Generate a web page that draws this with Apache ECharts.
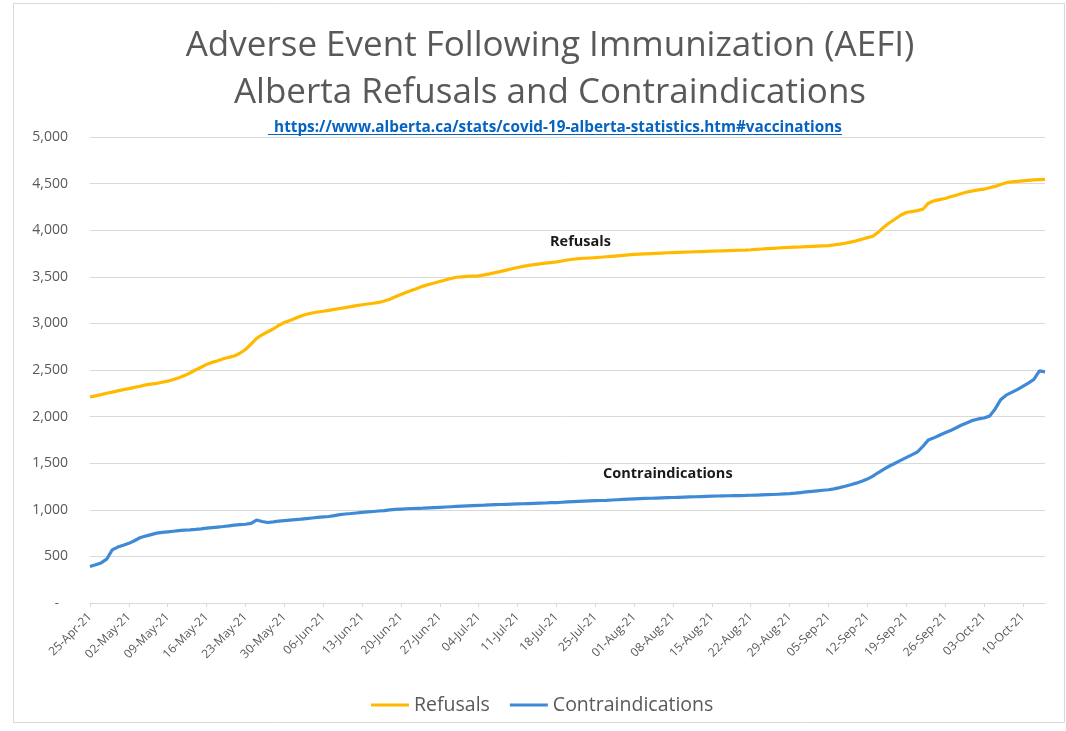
<!DOCTYPE html>
<html>
<head>
<meta charset="utf-8">
<title>AEFI Alberta Refusals and Contraindications</title>
<script src="https://cdn.jsdelivr.net/npm/echarts@6/dist/echarts.min.js"></script>
<style>
  html, body { margin: 0; padding: 0; background: #ffffff; }
  #chart { width: 1066px; height: 731px; }
</style>
</head>
<body>
<div id="chart"></div>
<script>
// Daily cumulative counts, 25-Apr-21 through 14-Oct-21
const startDate = '2021-04-25';
const dayCount = 173;

const refusals = [
  2210, 2222, 2236, 2250, 2262, 2276, 2289,
  2300, 2314, 2326, 2340, 2349, 2356, 2368,
  2380, 2398, 2418, 2440, 2468, 2500, 2530,
  2560, 2582, 2600, 2620, 2636, 2650, 2680,
  2720, 2778, 2840, 2878, 2910, 2940, 2978,
  3010, 3032, 3056, 3080, 3098, 3112, 3122,
  3130, 3140, 3150, 3160, 3170, 3180, 3190,
  3200, 3208, 3216, 3225, 3240, 3260, 3286,
  3310, 3334, 3356, 3378, 3400, 3418, 3434,
  3450, 3466, 3482, 3495, 3500, 3504, 3507,
  3510, 3520, 3532, 3545, 3558, 3572, 3586,
  3600, 3612, 3622, 3630, 3638, 3646, 3653,
  3660, 3670, 3680, 3688, 3695, 3699, 3702,
  3705, 3710, 3715, 3720, 3725, 3730, 3735,
  3740, 3743, 3746, 3749, 3752, 3755, 3758,
  3760, 3762, 3764, 3766, 3769, 3771, 3773,
  3775, 3777, 3779, 3781, 3783, 3785, 3787,
  3790, 3794, 3798, 3802, 3806, 3809, 3812,
  3815, 3818, 3820, 3823, 3826, 3829, 3832,
  3835, 3842, 3850, 3860, 3872, 3886, 3902,
  3920, 3935, 3980, 4035, 4080, 4120, 4160,
  4190, 4200, 4210, 4225, 4290, 4315, 4328,
  4340, 4358, 4376, 4394, 4410, 4422, 4432,
  4440, 4455, 4470, 4490, 4510, 4518, 4524,
  4530, 4535, 4539, 4542, 4545
];

const contraindications = [
  392, 410, 430, 470, 570, 600, 620,
  640, 668, 700, 718, 734, 750, 758,
  764, 770, 776, 781, 785, 790, 796,
  803, 809, 815, 821, 828, 836, 841,
  845, 855, 890, 875, 864, 870, 878,
  884, 890, 895, 900, 906, 912, 918,
  924, 928, 938, 948, 955, 960, 966,
  972, 977, 982, 987, 992, 1000, 1004,
  1008, 1011, 1014, 1016, 1018, 1021, 1024,
  1027, 1030, 1033, 1036, 1039, 1042, 1045,
  1048, 1050, 1053, 1055, 1057, 1059, 1061,
  1063, 1065, 1067, 1069, 1071, 1073, 1076,
  1078, 1081, 1084, 1087, 1090, 1093, 1096,
  1098, 1100, 1102, 1105, 1108, 1111, 1114,
  1117, 1120, 1122, 1124, 1126, 1128, 1130,
  1132, 1134, 1136, 1138, 1140, 1142, 1144,
  1146, 1148, 1150, 1151, 1152, 1153, 1154,
  1156, 1158, 1160, 1162, 1164, 1167, 1170,
  1173, 1178, 1185, 1192, 1198, 1204, 1210,
  1215, 1225, 1238, 1252, 1268, 1286, 1306,
  1330, 1362, 1400, 1436, 1470, 1500, 1530,
  1560, 1590, 1620, 1680, 1750, 1772, 1800,
  1826, 1850, 1880, 1910, 1935, 1960, 1975,
  1985, 2005, 2080, 2180, 2230, 2260, 2290,
  2325, 2360, 2400, 2490, 2480
];

const seriesNames = ['Refusals', 'Contraindications'];
const titleLines = ['Adverse Event Following Immunization (AEFI)', 'Alberta Refusals and Contraindications'];
const sourceLink = 'https://www.alberta.ca/stats/covid-19-alberta-statistics.htm#vaccinations';

// Build the daily category labels, e.g. "25-Apr-21"
const monthNames = ['Jan','Feb','Mar','Apr','May','Jun','Jul','Aug','Sep','Oct','Nov','Dec'];
const dates = [];
{
  const d0 = new Date(startDate + 'T12:00:00Z');
  for (let i = 0; i < dayCount; i++) {
    const d = new Date(d0.getTime() + i * 86400000);
    const dd = String(d.getUTCDate()).padStart(2, '0');
    const yy = String(d.getUTCFullYear()).slice(2);
    dates.push(dd + '-' + monthNames[d.getUTCMonth()] + '-' + yy);
  }
}

const grey = '#595959';
const font = '"Open Sans", "Noto Sans", sans-serif';
const orange = '#FFBA00';
const blue = '#3F8AD6';

const chart = echarts.init(document.getElementById('chart'), null, { renderer: 'canvas' });

chart.setOption({
  backgroundColor: '#ffffff',
  animation: false,
  textStyle: { fontFamily: font },
  title: [
    {
      text: titleLines.join('\n'),
      left: 545,
      top: 18,
      textAlign: 'center',
      textStyle: { fontFamily: font, fontSize: 35, fontWeight: 'normal', color: grey, lineHeight: 47 }
    },
    {
      text: sourceLink,
      link: sourceLink,
      left: 553,
      top: 115,
      textAlign: 'center',
      textStyle: { fontFamily: font, fontSize: 15.3, fontWeight: 'bold', color: '#0563C1' }
    }
  ],
  legend: {
    data: seriesNames,
    left: 366,
    top: 690,
    itemWidth: 38,
    itemHeight: 3,
    itemGap: 20,
    icon: 'rect',
    textStyle: { fontFamily: font, fontSize: 19.5, color: grey }
  },
  grid: { left: 90, right: 21, top: 137, bottom: 128, containLabel: false },
  xAxis: {
    type: 'category',
    data: dates,
    boundaryGap: false,
    axisLine: { show: true, lineStyle: { color: '#d9d9d9', width: 1 } },
    axisTick: { show: true, interval: 6, length: 4, lineStyle: { color: '#d9d9d9' } },
    axisLabel: {
      interval: 6,
      rotate: 45,
      margin: 12,
      fontFamily: font,
      fontSize: 12,
      color: grey
    },
    splitLine: { show: false }
  },
  yAxis: {
    type: 'value',
    min: 0,
    max: 5000,
    interval: 500,
    axisLine: { show: false },
    axisTick: { show: false },
    axisLabel: {
      margin: 22,
      fontFamily: font,
      fontSize: 14,
      color: grey,
      formatter: function (v) {
        return v === 0 ? '{z|-}' : v.toLocaleString('en-US');
      },
      rich: { z: { padding: [0, 9, 0, 0], fontSize: 13, color: grey } }
    },
    splitLine: { lineStyle: { color: '#d9d9d9', width: 1 } }
  },
  series: [
    {
      name: seriesNames[0],
      type: 'line',
      data: refusals,
      symbol: 'none',
      lineStyle: { color: orange, width: 3.2 },
      itemStyle: { color: orange }
    },
    {
      name: seriesNames[1],
      type: 'line',
      data: contraindications,
      symbol: 'none',
      lineStyle: { color: blue, width: 3.2 },
      itemStyle: { color: blue }
    }
  ],
  graphic: [
    {
      type: 'rect',
      shape: { x: 13.5, y: 3.5, width: 1051, height: 719 },
      style: { fill: 'none', stroke: '#d9d9d9', lineWidth: 1 },
      silent: true
    },
    {
      type: 'line',
      shape: { x1: 268, y1: 134.5, x2: 842, y2: 134.5 },
      style: { stroke: '#0563C1', lineWidth: 1.2 },
      silent: true
    },
    {
      type: 'text',
      left: 550,
      top: 234,
      style: { text: seriesNames[0], fontFamily: font, fontSize: 14.5, fontWeight: 'bold', fill: '#1a1a1a' }
    },
    {
      type: 'text',
      left: 603,
      top: 466,
      style: { text: seriesNames[1], fontFamily: font, fontSize: 14.5, fontWeight: 'bold', fill: '#1a1a1a' }
    }
  ]
});
</script>
</body>
</html>
